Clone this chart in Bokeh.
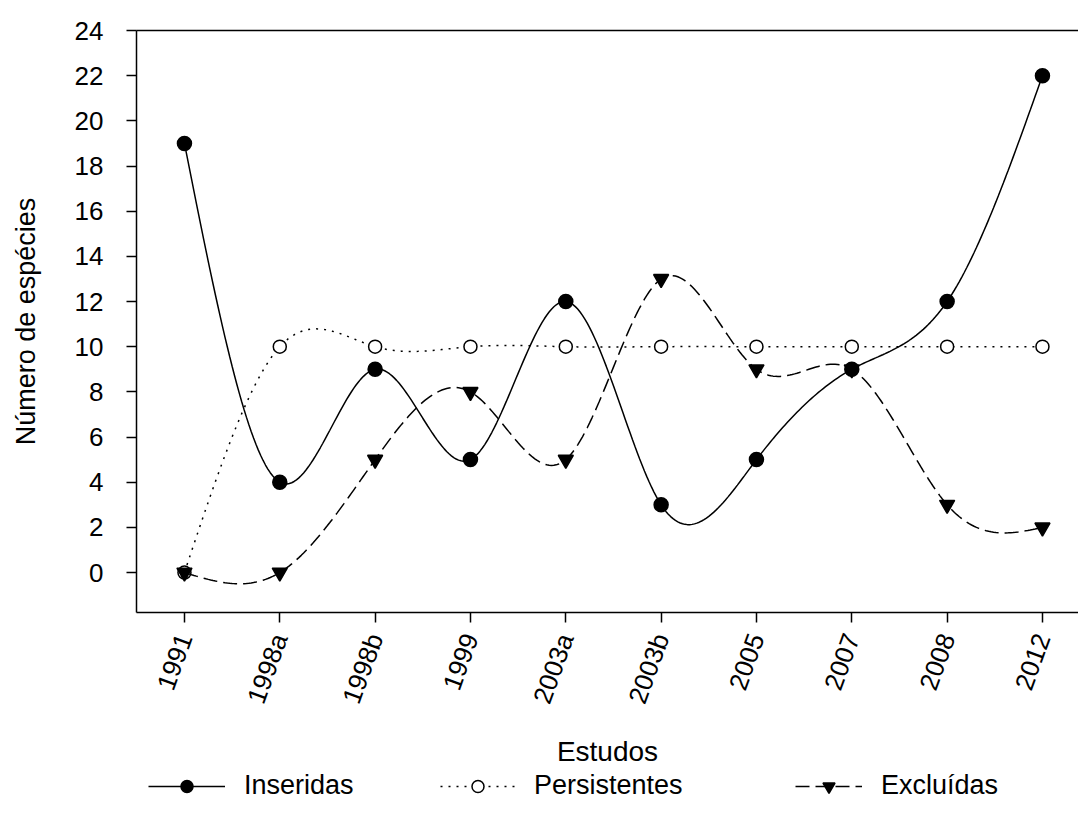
import math
import numpy as np
from bokeh.plotting import figure
from bokeh.layouts import column
from bokeh.models import Range1d, FixedTicker, Legend, LegendItem, LinearAxis
from bokeh.embed import file_html
from bokeh.resources import INLINE

categories = ["1991", "1998a", "1998b", "1999", "2003a", "2003b", "2005", "2007", "2008", "2012"]
inseridas = [19, 4, 9, 5, 12, 3, 5, 9, 12, 22]
persistentes = [0, 10, 10, 10, 10, 10, 10, 10, 10, 10]
excluidas = [0, 0, 5, 8, 5, 13, 9, 9, 3, 2]
y_ticks = [0, 2, 4, 6, 8, 10, 12, 14, 16, 18, 20, 22, 24]
series_names = ["Inseridas", "Persistentes", "Excluídas"]

FONT = "Liberation Sans"


def natural_spline(ys, steps=40):
    """Natural cubic spline through (index, y) for smooth drawing."""
    y = np.asarray(ys, dtype=float)
    n = len(y)
    x = np.arange(n, dtype=float)
    A = np.zeros((n, n))
    b = np.zeros(n)
    A[0, 0] = 1.0
    A[-1, -1] = 1.0
    for i in range(1, n - 1):
        A[i, i - 1] = 1.0
        A[i, i] = 4.0
        A[i, i + 1] = 1.0
        b[i] = 6.0 * (y[i + 1] - 2 * y[i] + y[i - 1])
    M = np.linalg.solve(A, b)
    xs_out, ys_out = [], []
    for i in range(n - 1):
        t = np.linspace(0, 1, steps, endpoint=(i == n - 2))
        a = 1 - t
        s = (M[i] * a ** 3 + M[i + 1] * t ** 3) / 6.0 + (y[i] - M[i] / 6.0) * a + (y[i + 1] - M[i + 1] / 6.0) * t
        xs_out.extend(x[i] + t)
        ys_out.extend(s)
    return xs_out, ys_out


xi = list(range(len(categories)))

p = figure(width=1078, height=771,
           x_range=Range1d(-0.503, 9.378), y_range=Range1d(-1.77, 24),
           output_backend="svg", toolbar_location=None,
           min_border_left=136, min_border_right=0,
           min_border_top=30, min_border_bottom=159)
p.outline_line_color = None
p.xgrid.visible = False
p.ygrid.visible = False
p.background_fill_color = "white"
p.border_fill_color = "white"

# axes
for ax in (p.xaxis[0], p.yaxis[0]):
    ax.axis_line_color = "black"
    ax.axis_line_width = 1.5
    ax.major_tick_line_color = "black"
    ax.major_tick_line_width = 1.5
    ax.major_tick_out = 10
    ax.major_tick_in = 0
    ax.minor_tick_line_color = None
    ax.major_label_text_font = FONT
    ax.major_label_text_color = "black"
    ax.axis_label_text_font = FONT
    ax.axis_label_text_font_style = "normal"
    ax.axis_label_text_color = "black"

p.yaxis.ticker = FixedTicker(ticks=y_ticks)
p.yaxis.major_label_text_font_size = "26px"
p.yaxis.major_label_standoff = 23
p.yaxis.axis_label = "Número de espécies"
p.yaxis.axis_label_text_font_size = "27px"
p.yaxis.axis_label_standoff = 31

p.xaxis.ticker = FixedTicker(ticks=xi)
p.xaxis.major_label_overrides = {i: c for i, c in enumerate(categories)}
p.xaxis.major_label_orientation = math.radians(70)
p.xaxis.major_label_text_font_size = "26px"
p.xaxis.major_label_standoff = 12
p.xaxis.axis_label = "Estudos"
p.xaxis.axis_label_text_font_size = "28px"
p.xaxis.axis_label_standoff = 20

# top frame line: a bare axis above the frame
top_axis = LinearAxis(ticker=FixedTicker(ticks=[]), axis_line_color="black", axis_line_width=1.5,
                      major_tick_line_color=None, minor_tick_line_color=None)
p.add_layout(top_axis, "above")

styles = [
    dict(line_dash="solid", marker="circle", size=14, fill="black"),
    dict(line_dash="2 6", marker="circle", size=13, fill="white"),
    dict(line_dash="14 6", marker="inverted_triangle", size=15, fill="black"),
]
series = [inseridas, persistentes, excluidas]

for vals, st in zip(series, styles):
    sx, sy = natural_spline(vals)
    p.line(sx, sy, line_color="black", line_width=1.5, line_dash=st["line_dash"])
    p.scatter(xi, vals, marker=st["marker"], size=st["size"],
              fill_color=st["fill"], line_color="black", line_width=1.5)

# legend strip: separate figure whose proxy renderers carry the same data but lie
# outside its (empty) view, so only the legend entries are seen
q = figure(width=1078, height=50, x_range=Range1d(-100, -99), y_range=Range1d(-100, -99),
           output_backend="svg", toolbar_location=None,
           x_axis_location=None, y_axis_location=None,
           min_border_left=0, min_border_right=0, min_border_top=0, min_border_bottom=0)
q.outline_line_color = None
q.xgrid.visible = False
q.ygrid.visible = False
q.background_fill_color = "white"
q.border_fill_color = "white"

legend_x = [12, 304, 659]      # offsets from the (aligned) frame's left edge
glyph_w = [77, 75, 67]
for name, vals, st, lx, gw in zip(series_names, series, styles, legend_x, glyph_w):
    lr = q.line(xi, vals, line_color="black", line_width=1.5, line_dash=st["line_dash"])
    mr = q.scatter(xi, vals, marker=st["marker"], size=st["size"],
                   fill_color=st["fill"], line_color="black", line_width=1.5)
    q.add_layout(Legend(items=[LegendItem(label=name, renderers=[lr, mr])],
                        location=(lx, 20), orientation="horizontal",
                        glyph_width=gw, glyph_height=30, label_height=30, label_standoff=19,
                        padding=0, margin=0, spacing=0,
                        border_line_color=None, background_fill_alpha=0,
                        label_text_font=FONT, label_text_font_size="27px",
                        label_text_color="black"))

layout = column(p, q, spacing=0)
open("out.html", "w").write(file_html(layout, INLINE))
